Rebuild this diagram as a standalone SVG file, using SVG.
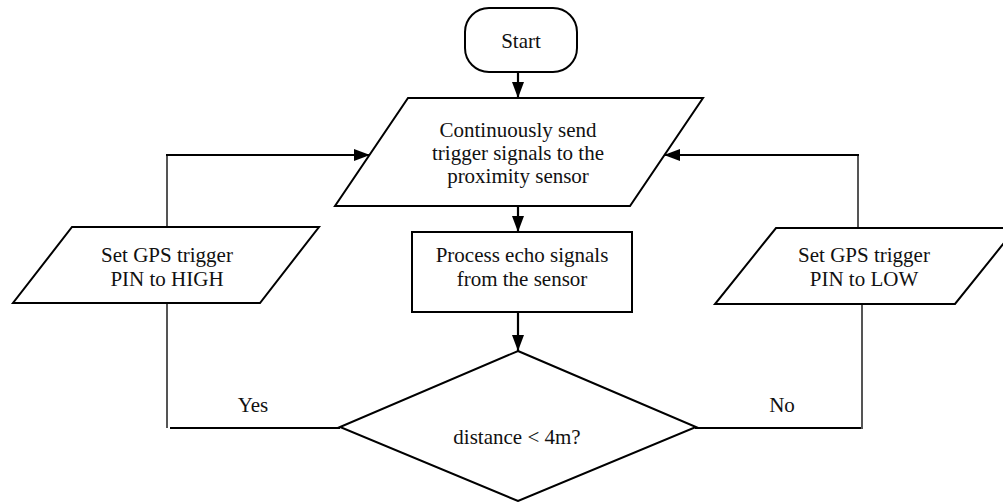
<svg xmlns="http://www.w3.org/2000/svg" width="1003" height="502" viewBox="0 0 1003 502">
  <style>
    .shape { fill: #fff; stroke: #000; stroke-width: 2; }
    .label { font-family: "Liberation Serif", "Times New Roman", serif; font-size: 21px; fill: #111; text-anchor: middle; }
    .flow { fill: none; stroke: #000; stroke-width: 2.2; }
    .side { fill: none; stroke: #555; stroke-width: 2; }
  </style>
  <defs>
    <marker id="arrow" viewBox="0 0 16 12" refX="16" refY="6" markerWidth="16" markerHeight="12" markerUnits="userSpaceOnUse" orient="auto">
      <path d="M0,0 L16,6 L0,12 Z" fill="#000"/>
    </marker>
  </defs>
  <rect width="1003" height="502" fill="#fff"/>

  <g id="connectors">
    <!-- main downward flow -->
    <line class="flow" x1="518" y1="72" x2="518" y2="98" marker-end="url(#arrow)"/>
    <line class="flow" x1="518" y1="206" x2="518" y2="232" marker-end="url(#arrow)"/>
    <line class="flow" x1="518" y1="312" x2="518" y2="351" marker-end="url(#arrow)"/>
    <!-- Yes branch -->
    <line class="flow" x1="340" y1="428" x2="170" y2="428"/>
    <line class="side" x1="167" y1="428" x2="167" y2="303"/>
    <line class="side" x1="167" y1="227" x2="167" y2="155"/>
    <line class="flow" x1="166" y1="155" x2="370" y2="155" marker-end="url(#arrow)"/>
    <!-- No branch -->
    <line class="flow" x1="695" y1="428" x2="862" y2="428"/>
    <line class="side" x1="862" y1="429" x2="862" y2="304"/>
    <line class="side" x1="858" y1="228" x2="858" y2="155"/>
    <line class="flow" x1="859" y1="155" x2="664" y2="155" marker-end="url(#arrow)"/>
  </g>

  <g id="start">
    <rect class="shape" x="465" y="8" width="112" height="64" rx="24" ry="24"/>
    <text class="label" x="521" y="48">Start</text>
  </g>

  <g id="send-trigger">
    <polygon class="shape" points="408,98 703,98 630,206 335,206"/>
    <text class="label" x="518" y="137">Continuously send</text>
    <text class="label" x="518" y="160">trigger signals to the</text>
    <text class="label" x="518" y="183">proximity sensor</text>
  </g>

  <g id="process-echo">
    <rect class="shape" x="412" y="232" width="220" height="80"/>
    <text class="label" x="522" y="262">Process echo signals</text>
    <text class="label" x="522" y="286">from the sensor</text>
  </g>

  <g id="decision">
    <polygon class="shape" points="518,351 696,427 518,501 340,427"/>
    <text class="label" x="517" y="444">distance &lt; 4m?</text>
  </g>

  <g id="set-high">
    <polygon class="shape" points="72,227 319,227 260,303 13,303"/>
    <text class="label" x="167" y="262">Set GPS trigger</text>
    <text class="label" x="167" y="286">PIN to HIGH</text>
  </g>

  <g id="set-low">
    <polygon class="shape" points="776,228 1016,228 955,304 715,304"/>
    <text class="label" x="864" y="262">Set GPS trigger</text>
    <text class="label" x="864" y="286">PIN to LOW</text>
  </g>

  <g id="branch-labels">
    <text class="label" x="253" y="412">Yes</text>
    <text class="label" x="782" y="412">No</text>
  </g>
</svg>
